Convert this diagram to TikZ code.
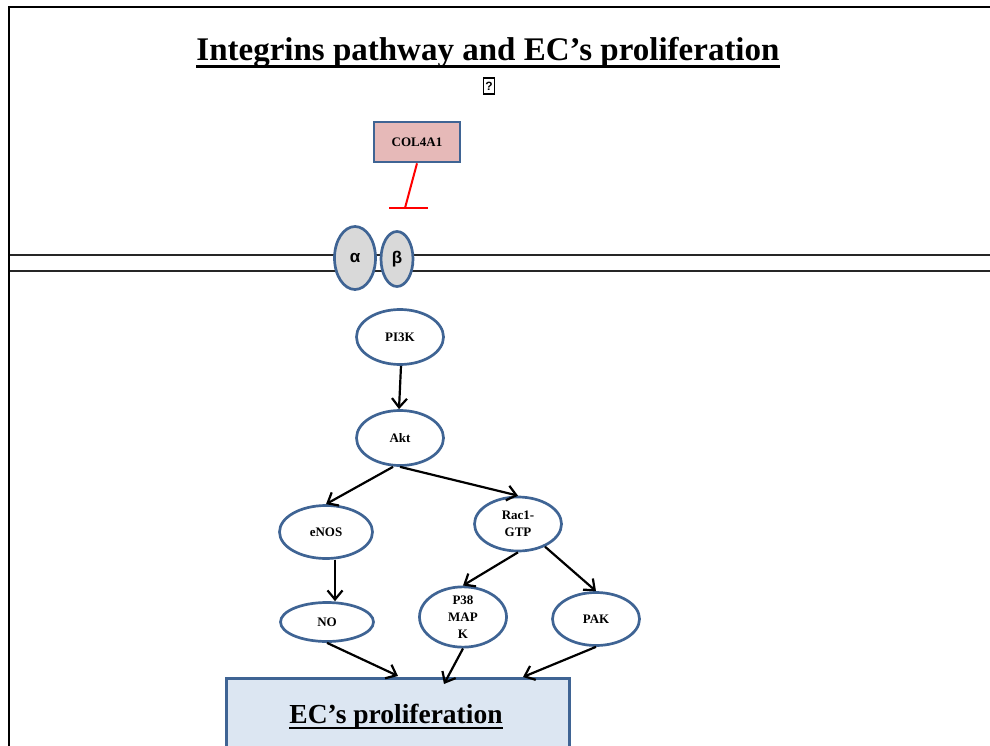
\documentclass[tikz,border=0pt]{standalone}
\usepackage{fontspec}
\setmainfont{Liberation Serif}
\newfontfamily\greekfont{Liberation Sans}
\usetikzlibrary{arrows.meta,shapes.geometric}
\definecolor{edgeblue}{HTML}{3F6494}
\definecolor{pinkfill}{HTML}{E6B9B8}
\definecolor{bluefill}{HTML}{DCE6F2}
\definecolor{grayfill}{HTML}{D9D9D9}
\tikzset{
  molecule/.style={ellipse, draw=edgeblue, line width=2.7pt, fill=white,
    minimum width=#1, font=\fontsize{13}{17}\selectfont\bfseries, align=center, inner sep=0pt},
  subunit/.style={ellipse, draw=edgeblue, line width=2.7pt, fill=grayfill,
    font=\greekfont\fontsize{17}{17}\selectfont\bfseries, inner sep=0pt},
  act/.style={-{Straight Barb[length=9pt,width=15pt,line width=2.2pt]}, line width=2.2pt},
  membrane/.style={line width=2.4pt, black!85},
}
\begin{document}
\begin{tikzpicture}[x=1pt,y=-1pt]
\useasboundingbox (0,0) rectangle (990,746);
% page frame
\draw[line width=2.4pt] (9,747) -- (9,7) -- (991,7);
% cell membrane
\draw[membrane] (10,255) -- (991,255);
\draw[membrane] (10,271) -- (991,271);

% title
\node[inner sep=0pt, anchor=base, font=\fontsize{33}{35}\selectfont\bfseries] (title) at (488,61) {Integrins pathway and EC’s proliferation};
\draw[line width=3pt] ([yshift=-6pt]title.base west) -- ([yshift=-6pt]title.base east);
\node[draw, line width=1.4pt, minimum width=11pt, minimum height=16pt, inner sep=0pt,
  font=\greekfont\fontsize{12}{12}\selectfont\bfseries] (glyph) at (489,86) {?};

% ligand and its inhibition of the integrin
\node[draw=edgeblue, line width=2.7pt, fill=pinkfill, minimum width=86pt, minimum height=40pt,
  font=\fontsize{13}{14}\selectfont\bfseries] (col) at (417,142) {COL4A1};
\coordinate (bar) at (405,208);
\draw[red, line width=2pt] (col.south) -- (bar);
\draw[red, line width=2pt] (389,208) -- (428,208);

% integrin heterodimer
\node[subunit, minimum width=41pt, minimum height=63pt] (alpha) at (355,258) {α};
\node[subunit, minimum width=32pt, minimum height=55pt] (beta) at (397,259) {β};

% signalling cascade
\node[molecule=87pt, minimum height=55pt] (pi3k) at (400,337) {PI3K};
\node[molecule=87pt, minimum height=55pt] (akt) at (400,438) {Akt};
\node[molecule=93pt, minimum height=53pt] (enos) at (326,532) {eNOS};
\node[molecule=87pt, minimum height=54pt] (rac) at (518,524) {Rac1-\\GTP};
\node[molecule=93pt, minimum height=39pt] (no) at (327,622) {NO};
\node[molecule=87pt, minimum height=53pt] (p38) at (463,617) {P38\\MAP\\K};
\node[molecule=87pt, minimum height=53pt] (pak) at (596,619) {PAK};

% outcome
\node[draw=edgeblue, line width=2.7pt, fill=bluefill, minimum width=343pt, minimum height=80pt,
  anchor=north west] (prolif) at (225,677) {};
\node[inner sep=0pt, anchor=base, font=\fontsize{27.5}{29}\selectfont\bfseries] (prolabel) at (396,723) {EC’s proliferation};
\draw[line width=2.2pt] ([yshift=-5pt]prolabel.base west) -- ([yshift=-5pt]prolabel.base east);

% connectors
\draw[act] ([xshift=1pt]pi3k.south) -- ([xshift=-1pt]akt.north);
\draw[act] ([xshift=-7pt]akt.south) -- (enos.north);
\draw[act] (akt.south) -- (rac.north);
\draw[act] ([xshift=9pt]enos.south) -- ([xshift=8pt]no.north);
\draw[act] (rac.south) -- (p38.north);
\draw[act] (rac.-40) -- (pak.north);
\draw[act] (no.south) -- (398,676) coordinate (inA);
\draw[act] (p38.south) -- (444,684) coordinate (inB);
\draw[act] (pak.south) -- (523,677) coordinate (inC);
\end{tikzpicture}
\end{document}
